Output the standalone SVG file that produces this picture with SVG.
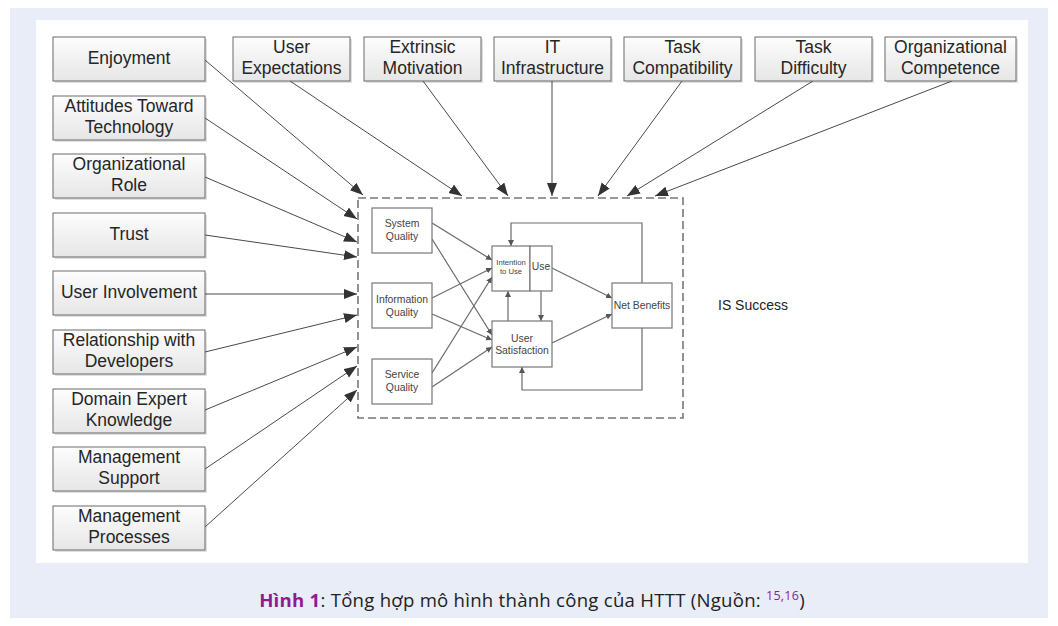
<svg xmlns="http://www.w3.org/2000/svg" width="1058" height="626" viewBox="0 0 1058 626">
<defs>
<style>
.bx{fill:url(#g);stroke:#6a6a6a;stroke-width:1}
.sh{fill:#000;opacity:0.12}
.t{font-family:"Liberation Sans",Arial,sans-serif;font-size:17.5px;fill:#262626;text-anchor:middle}
.ib{fill:#fff;stroke:#777;stroke-width:1.2}
.it{font-family:"Liberation Sans",Arial,sans-serif;font-size:10.4px;fill:#444;text-anchor:middle}
.it.sm{font-size:7.7px}
.c{stroke:#4a4a4a;stroke-width:1;fill:none;marker-end:url(#a)}
.ic{stroke:#6a6a6a;stroke-width:1.2;fill:none;marker-end:url(#s)}
.cap{font-family:"Open Sans","Noto Sans",sans-serif;font-size:18.6px;letter-spacing:0.25px;fill:#222}
</style>
<linearGradient id="g" x1="0" y1="0" x2="0" y2="1">
<stop offset="0" stop-color="#fdfdfd"/>
<stop offset="1" stop-color="#e6e6e6"/>
</linearGradient>
<marker id="a" markerUnits="userSpaceOnUse" markerWidth="14" markerHeight="12" refX="13" refY="5" orient="auto">
<path d="M0,0 L13,5 L0,10 z" fill="#333"/>
</marker>
<marker id="s" markerUnits="userSpaceOnUse" markerWidth="8" markerHeight="8" refX="6" refY="3" orient="auto">
<path d="M0,0 L6,3 L0,6 z" fill="#555"/>
</marker>
</defs>
<rect x="10" y="8" width="1038" height="610" fill="#e9edf7"/>
<rect x="36" y="20" width="992" height="543" fill="#fff"/>

<g id="connectors">
<line class="c" x1="205" y1="60" x2="363" y2="195"/>
<line class="c" x1="205" y1="118" x2="357" y2="219"/>
<line class="c" x1="205" y1="177" x2="357" y2="242"/>
<line class="c" x1="205" y1="235" x2="357" y2="257"/>
<line class="c" x1="205" y1="294" x2="357" y2="294"/>
<line class="c" x1="205" y1="352" x2="357" y2="315"/>
<line class="c" x1="205" y1="410" x2="357" y2="347"/>
<line class="c" x1="205" y1="469" x2="357" y2="366"/>
<line class="c" x1="205" y1="527" x2="357" y2="390"/>
<line class="c" x1="290" y1="81" x2="462" y2="196"/>
<line class="c" x1="423" y1="81" x2="508" y2="196"/>
<line class="c" x1="552" y1="81" x2="552" y2="196"/>
<line class="c" x1="682" y1="81" x2="598" y2="196"/>
<line class="c" x1="813" y1="81" x2="627" y2="196"/>
<line class="c" x1="952" y1="81" x2="655" y2="196"/>
<line class="ic" x1="432" y1="223" x2="492" y2="260"/>
<line class="ic" x1="432" y1="239" x2="492" y2="335"/>
<line class="ic" x1="432" y1="298" x2="492" y2="268"/>
<line class="ic" x1="432" y1="314" x2="492" y2="340"/>
<line class="ic" x1="432" y1="373" x2="492" y2="277"/>
<line class="ic" x1="432" y1="387" x2="492" y2="347"/>
<line class="ic" x1="552" y1="268" x2="612" y2="298"/>
<line class="ic" x1="552" y1="343" x2="612" y2="314"/>
<line class="ic" x1="508" y1="321" x2="508" y2="291"/>
<line class="ic" x1="541" y1="291" x2="541" y2="321"/>
<polyline class="ic" points="642,283 642,223 511,223 511,246"/>
<polyline class="ic" points="642,328 642,390 522,390 522,367"/>
</g>

<g id="is-success">
<rect x="358" y="198" width="325" height="220" fill="none" stroke="#777" stroke-width="1.6" stroke-dasharray="8,4"/>
<text x="718" y="310" font-family="Liberation Sans, Arial, sans-serif" font-size="14" fill="#222">IS Success</text>
</g>

<g id="system-quality"><rect class="ib" x="372" y="208" width="60" height="45"/><text class="it" x="402" y="227">System</text><text class="it" x="402" y="240">Quality</text></g>
<g id="information-quality"><rect class="ib" x="372" y="283" width="60" height="45"/><text class="it" x="402" y="303">Information</text><text class="it" x="402" y="316">Quality</text></g>
<g id="service-quality"><rect class="ib" x="372" y="359" width="60" height="45"/><text class="it" x="402" y="378">Service</text><text class="it" x="402" y="391">Quality</text></g>
<g id="intention-to-use"><rect class="ib" x="492" y="246" width="38" height="45"/><text class="it sm" x="511" y="265">Intention</text><text class="it sm" x="511" y="274">to Use</text></g>
<g id="use"><rect class="ib" x="530" y="246" width="22" height="45"/><text class="it" x="541" y="270">Use</text></g>
<g id="user-satisfaction"><rect class="ib" x="492" y="321" width="60" height="46"/><text class="it" x="522" y="342">User</text><text class="it" x="522" y="354">Satisfaction</text></g>
<g id="net-benefits"><rect class="ib" x="612" y="283" width="60" height="45"/><text class="it" x="642" y="309">Net Benefits</text></g>

<g id="enjoyment"><rect class="sh" x="55" y="39" width="152" height="44"/><rect class="bx" x="53" y="37" width="152" height="44"/><text class="t" x="129" y="64">Enjoyment</text></g>
<g id="attitudes"><rect class="sh" x="55" y="98" width="152" height="44"/><rect class="bx" x="53" y="96" width="152" height="44"/><text class="t" x="129" y="112">Attitudes Toward</text><text class="t" x="129" y="133">Technology</text></g>
<g id="org-role"><rect class="sh" x="55" y="156" width="152" height="44"/><rect class="bx" x="53" y="154" width="152" height="44"/><text class="t" x="129" y="170">Organizational</text><text class="t" x="129" y="191">Role</text></g>
<g id="trust"><rect class="sh" x="55" y="215" width="152" height="44"/><rect class="bx" x="53" y="213" width="152" height="44"/><text class="t" x="129" y="240">Trust</text></g>
<g id="user-involvement"><rect class="sh" x="55" y="273" width="152" height="44"/><rect class="bx" x="53" y="271" width="152" height="44"/><text class="t" x="129" y="298">User Involvement</text></g>
<g id="relationship"><rect class="sh" x="55" y="332" width="152" height="44"/><rect class="bx" x="53" y="330" width="152" height="44"/><text class="t" x="129" y="346">Relationship with</text><text class="t" x="129" y="367">Developers</text></g>
<g id="domain"><rect class="sh" x="55" y="391" width="152" height="44"/><rect class="bx" x="53" y="389" width="152" height="44"/><text class="t" x="129" y="405">Domain Expert</text><text class="t" x="129" y="426">Knowledge</text></g>
<g id="mgmt-support"><rect class="sh" x="55" y="449" width="152" height="44"/><rect class="bx" x="53" y="447" width="152" height="44"/><text class="t" x="129" y="463">Management</text><text class="t" x="129" y="484">Support</text></g>
<g id="mgmt-processes"><rect class="sh" x="55" y="508" width="152" height="44"/><rect class="bx" x="53" y="506" width="152" height="44"/><text class="t" x="129" y="522">Management</text><text class="t" x="129" y="543">Processes</text></g>

<g id="user-expectations"><rect class="sh" x="235" y="39" width="117" height="44"/><rect class="bx" x="233" y="37" width="117" height="44"/><text class="t" x="291.5" y="53">User</text><text class="t" x="291.5" y="74">Expectations</text></g>
<g id="extrinsic"><rect class="sh" x="366" y="39" width="117" height="44"/><rect class="bx" x="364" y="37" width="117" height="44"/><text class="t" x="422.5" y="53">Extrinsic</text><text class="t" x="422.5" y="74">Motivation</text></g>
<g id="it-infra"><rect class="sh" x="496" y="39" width="117" height="44"/><rect class="bx" x="494" y="37" width="117" height="44"/><text class="t" x="552.5" y="53">IT</text><text class="t" x="552.5" y="74">Infrastructure</text></g>
<g id="task-compat"><rect class="sh" x="626" y="39" width="117" height="44"/><rect class="bx" x="624" y="37" width="117" height="44"/><text class="t" x="682.5" y="53">Task</text><text class="t" x="682.5" y="74">Compatibility</text></g>
<g id="task-difficulty"><rect class="sh" x="757" y="39" width="117" height="44"/><rect class="bx" x="755" y="37" width="117" height="44"/><text class="t" x="813.5" y="53">Task</text><text class="t" x="813.5" y="74">Difficulty</text></g>
<g id="org-competence"><rect class="sh" x="887" y="39" width="131" height="44"/><rect class="bx" x="885" y="37" width="131" height="44"/><text class="t" x="950.5" y="53">Organizational</text><text class="t" x="950.5" y="74">Competence</text></g>

<text class="cap" x="532" y="607" text-anchor="middle"><tspan font-weight="bold" fill="#8e1c8e">Hình 1</tspan>: Tổng hợp mô hình thành công của HTTT (Nguồn: <tspan fill="#8e1c8e" style="font-size:12.5px" dy="-7">15,16</tspan><tspan dy="7">)</tspan></text>
</svg>
